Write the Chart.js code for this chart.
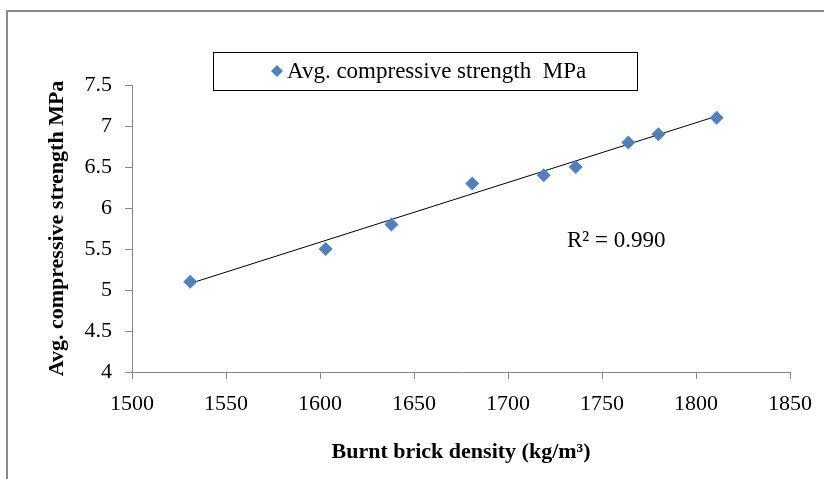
<!DOCTYPE html>
<html>
<head>
<meta charset="utf-8">
<script src="https://cdn.jsdelivr.net/npm/chart.js"></script>
<style>
  html, body { margin: 0; padding: 0; background: #fff; overflow: hidden; }
  #frame { position: absolute; left: 6px; top: 10px; width: 840px; height: 500px; border: 2px solid #8c8c8c; }
  #wrap { position: absolute; left: 0; top: 0; width: 824px; height: 479px; }
</style>
</head>
<body>
<div id="frame"></div>
<div id="wrap"><canvas id="myChart" width="824" height="479"></canvas></div>
<script>
// density (kg/m3) and strength (MPa)
var density = [1531, 1603, 1638, 1681, 1719, 1736, 1764, 1780, 1811];
var strength = [5.1, 5.5, 5.8, 6.3, 6.4, 6.5, 6.8, 6.9, 7.1];
// trendline end points as drawn
var trendX = [1531, 1811];
var trendY = [5.08, 7.12];
var seriesName = 'Avg. compressive strength  MPa';
var r2Text = 'R\u00B2 = 0.990';

var serif = '"Liberation Serif", "Times New Roman", serif';

// legend box + R2 label
var extras = {
  id: 'extras',
  afterDraw: function(chart) {
    var ctx = chart.ctx;
    ctx.save();
    ctx.strokeStyle = '#000';
    ctx.lineWidth = 1;
    ctx.strokeRect(213.5, 52.5, 424, 38);
    // diamond marker
    ctx.fillStyle = '#4F81BD';
    ctx.beginPath();
    ctx.moveTo(277, 65); ctx.lineTo(283, 71); ctx.lineTo(277, 77); ctx.lineTo(271, 71);
    ctx.closePath(); ctx.fill();
    ctx.fillStyle = '#000';
    ctx.font = '23px ' + serif;
    ctx.textBaseline = 'middle';
    ctx.fillText(seriesName, 287, 72);
    ctx.fillText(r2Text, 567, 241);
    ctx.restore();
  }
};

var ctx = document.getElementById('myChart').getContext('2d');
var myChart = new Chart(ctx, {
  type: 'scatter',
  data: {
    datasets: [{
      label: seriesName,
      data: density.map(function(d, i) { return { x: d, y: strength[i] }; }),
      backgroundColor: '#4F81BD',
      borderColor: '#4F81BD',
      pointStyle: 'rectRot',
      pointRadius: 7,
      pointBorderWidth: 0
    }, {
      type: 'line',
      label: 'trend',
      data: trendX.map(function(d, i) { return { x: d, y: trendY[i] }; }),
      borderColor: '#000',
      borderWidth: 1,
      pointRadius: 0,
      fill: false
    }]
  },
  options: {
    responsive: false,
    animation: false,
    layout: { padding: { left: 0, right: 31, top: 85, bottom: 0 } },
    plugins: { legend: { display: false }, tooltip: { enabled: false } },
    scales: {
      x: {
        type: 'linear', min: 1500, max: 1850,
        ticks: { stepSize: 50, color: '#000', font: { family: serif, size: 22 }, padding: 12, maxRotation: 0,
          callback: function(v) { return String(v); } },
        grid: { display: true, drawOnChartArea: false, drawTicks: true, tickLength: 7, color: '#868686' },
        border: { color: '#868686', width: 1 },
        title: { display: true, text: 'Burnt brick density (kg/m\u00B3)', color: '#000', font: { family: serif, size: 22, weight: 'bold' }, padding: { bottom: 13 } },
        afterFit: function(s) { s.height = 107; }
      },
      y: {
        min: 4, max: 7.5,
        ticks: { stepSize: 0.5, color: '#000', font: { family: serif, size: 22 }, padding: 13,
          callback: function(v) { return String(v); } },
        grid: { display: true, drawOnChartArea: false, drawTicks: true, tickLength: 7, color: '#868686' },
        border: { color: '#868686', width: 1 },
        title: { display: true, text: 'Avg. compressive strength MPa', color: '#000', font: { family: serif, size: 22, weight: 'bold' }, padding: { top: 44 } },
        afterFit: function(s) { s.width = 132; }
      }
    }
  },
  plugins: [extras]
});
</script>
</body>
</html>
